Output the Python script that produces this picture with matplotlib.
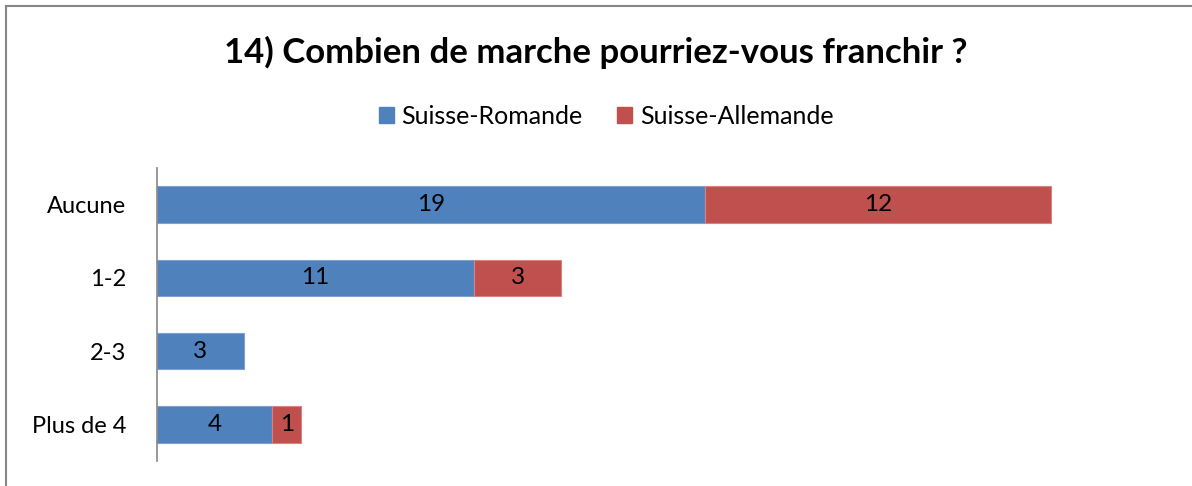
import matplotlib
matplotlib.use("Agg")
import matplotlib.pyplot as plt
from matplotlib.patches import Patch
from matplotlib.lines import Line2D
import numpy as np

plt.rcParams["font.family"] = ["Lato", "DejaVu Sans"]

categories = ["Aucune", "1-2", "2-3", "Plus de 4"]
romande = [19, 11, 3, 4]
allemande = [12, 3, 0, 1]

BLUE = "#4F81BD"
RED = "#C0504D"

W, H = 1192, 486
fig = plt.figure(figsize=(W / 100, H / 100), dpi=100)

# cadre gris (gauche + haut)
fig.add_artist(Line2D([6 / W, 6 / W], [0, 1 - 6 / H], color="#868686", lw=1.5))
fig.add_artist(Line2D([6 / W, 1], [1 - 6 / H, 1 - 6 / H], color="#868686", lw=1.5))

ax = fig.add_axes([157 / W, 1 - 461 / H, (1160 - 157) / W, (461 - 168) / H])

y = np.arange(len(categories))
h = 0.5
b1 = ax.barh(y, romande, h, color=BLUE, edgecolor="#7FA1CF", lw=0.8)
b2 = ax.barh(y, allemande, h, left=romande, color=RED, edgecolor="#D98381", lw=0.8)
for bar, v in zip(b2, allemande):
    if v == 0:
        bar.set_visible(False)

for bars, vals, lefts in [(b1, romande, [0] * 4), (b2, allemande, romande)]:
    for bar, v, l in zip(bars, vals, lefts):
        if v == 0:
            continue
        ax.text(l + v / 2, bar.get_y() + bar.get_height() / 2, str(v),
                ha="center", va="center", fontsize=17.5, color="black")

ax.set_xlim(0, (1160 - 157) / 28.84)
ax.set_ylim(3.5, -0.5)
ax.set_yticks(y)
ax.set_yticklabels(categories, fontsize=17)
ax.tick_params(axis="y", length=0, pad=22)
ax.set_xticks([])
for s in ["top", "right", "bottom"]:
    ax.spines[s].set_visible(False)
ax.spines["left"].set_color("#868686")
ax.spines["left"].set_linewidth(1.2)

fig.text(0.5, 1 - 52 / H, "14) Combien de marche pourriez-vous franchir ?",
         ha="center", va="center", fontsize=25, fontweight="bold")

handles = [Patch(color=BLUE, label="Suisse-Romande"),
           Patch(color=RED, label="Suisse-Allemande")]
fig.legend(handles=handles, loc="center", bbox_to_anchor=(606 / W, 1 - 116 / H), ncol=2,
           frameon=False, fontsize=18, handlelength=0.6, handleheight=0.6,
           handletextpad=0.3, columnspacing=1.4)

fig.savefig("out.png", dpi=100)
